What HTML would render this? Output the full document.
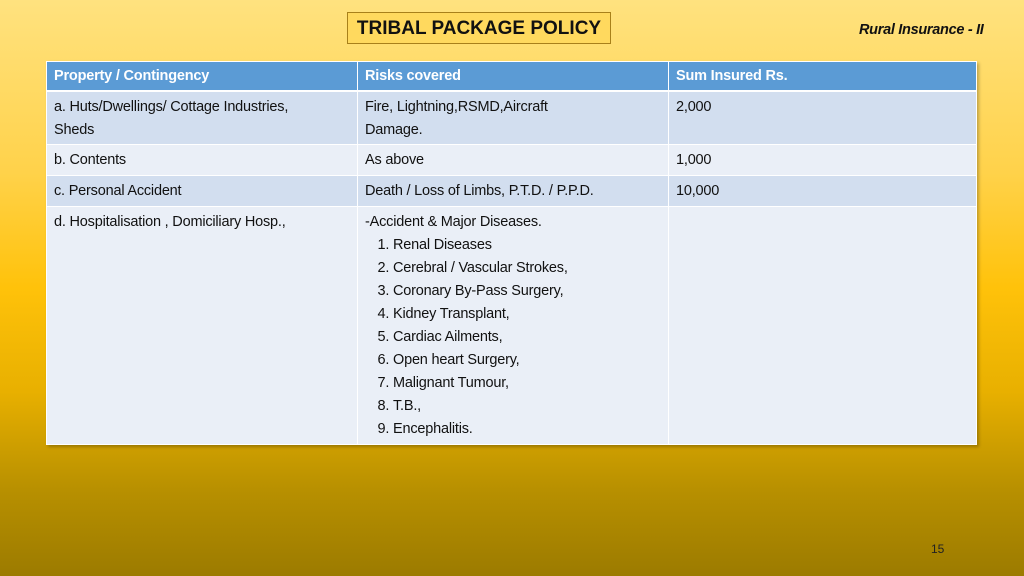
<!DOCTYPE html>
<html><head><meta charset="utf-8"><style>
body{margin:0;width:1024px;height:576px;overflow:hidden;font-family:"Liberation Sans",sans-serif;
background:linear-gradient(180deg,#ffe27f 0%,#ffd24a 30%,#ffc20a 50%,#e8b000 68%,#b89000 85%,#9c7b00 100%);position:relative}
.title{position:absolute;left:347px;top:12px;width:262px;height:30px;border:1px solid #a8801a;background:#ffd95e;font-weight:bold;font-size:19px;line-height:31px;text-align:center;color:#111}
.sub{position:absolute;left:859px;top:22px;font-size:14.5px;font-weight:bold;font-style:italic;color:#111;letter-spacing:-0.3px}
.pg{position:absolute;left:931px;top:542px;font-size:12px;color:#222}
table{position:absolute;left:46px;top:61px;width:931px;border-collapse:collapse;table-layout:fixed;font-size:14.5px;letter-spacing:-0.2px;color:#111;box-shadow:2px 2px 3px rgba(0,0,0,.25)}
td,th{vertical-align:top;padding:4px 7px 2px 7px;line-height:23px;border:1px solid #fff;text-align:left;overflow:hidden;white-space:nowrap}
th{background:#5b9bd5;color:#fff;font-weight:bold;height:23px;padding-top:3px;border-bottom:2px solid #fff}
tr.d td{background:#d2deef}tr.l td{background:#eaeff7}
ol{margin:0;padding-left:28px}
</style></head><body>
<div class="title">TRIBAL PACKAGE POLICY</div>
<div class="sub">Rural Insurance - II</div>
<table>
<colgroup><col style="width:311px"><col style="width:311px"><col></colgroup>
<tr><th>Property / Contingency</th><th>Risks covered</th><th>Sum Insured Rs.</th></tr>
<tr class="d"><td style="height:46px">a. Huts/Dwellings/ Cottage Industries,<br>Sheds</td><td>Fire, Lightning,RSMD,Aircraft<br>Damage.</td><td>2,000</td></tr>
<tr class="l"><td style="height:24px">b. Contents</td><td>As above</td><td>1,000</td></tr>
<tr class="d"><td style="height:24px">c. Personal Accident</td><td>Death / Loss of Limbs, P.T.D. / P.P.D.</td><td>10,000</td></tr>
<tr class="l"><td style="height:231px">d. Hospitalisation , Domiciliary Hosp.,</td><td>-Accident &amp; Major Diseases.<ol><li>Renal Diseases</li><li>Cerebral / Vascular Strokes,</li><li>Coronary By-Pass Surgery,</li><li>Kidney Transplant,</li><li>Cardiac Ailments,</li><li>Open heart Surgery,</li><li>Malignant Tumour,</li><li>T.B.,</li><li>Encephalitis.</li></ol></td><td></td></tr>
</table>
<div class="pg">15</div>
</body></html>
